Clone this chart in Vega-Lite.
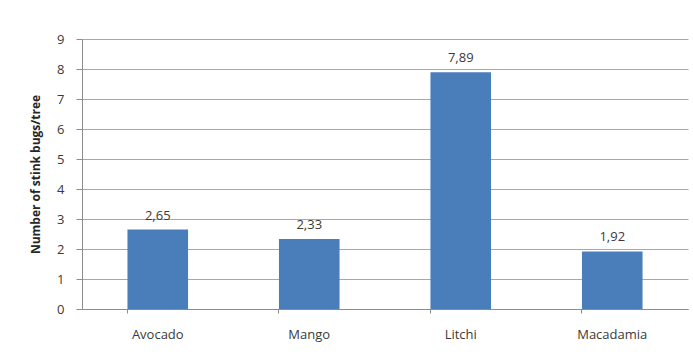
{
  "$schema": "https://vega.github.io/schema/vega-lite/v6.json",
  "autosize": {"type": "none"},
  "width": 606,
  "height": 270,
  "padding": {"left": 82, "top": 39, "right": 5, "bottom": 50},
  "background": "#ffffff",
  "config": {
    "view": {"stroke": null},
    "font": "Open Sans",
    "axis": {
      "labelFont": "Open Sans",
      "labelColor": "#3a3a3a",
      "labelFontSize": 13,
      "domainColor": "#8c8c8c",
      "tickColor": "#8c8c8c",
      "gridColor": "#a8a8a8"
    }
  },
  "data": {
    "values": [
      {"crop": "Avocado", "bugs": 2.65, "label": "2,65"},
      {"crop": "Mango", "bugs": 2.33, "label": "2,33"},
      {"crop": "Litchi", "bugs": 7.89, "label": "7,89"},
      {"crop": "Macadamia", "bugs": 1.92, "label": "1,92"}
    ]
  },
  "encoding": {
    "x": {
      "field": "crop",
      "type": "nominal",
      "sort": null,
      "scale": {"paddingInner": 0.6, "paddingOuter": 0.3},
      "axis": {
        "title": null,
        "labelAngle": 0,
        "labelPadding": 15,
        "tickSize": 4,
        "bandPosition": 0,
        "grid": false
      }
    },
    "y": {
      "field": "bugs",
      "type": "quantitative",
      "scale": {"domain": [0, 9], "nice": false},
      "axis": {
        "title": "Number of stink bugs/tree",
        "titleFont": "Open Sans",
        "titleFontSize": 12,
        "titleFontWeight": "bold",
        "titleColor": "#262626",
        "titlePadding": 14,
        "tickCount": 9,
        "tickSize": 6,
        "labelPadding": 12,
        "grid": true
      }
    }
  },
  "layer": [
    {"mark": {"type": "bar", "color": "#4a7ebb"}},
    {
      "mark": {"type": "text", "baseline": "bottom", "dy": -7, "fontSize": 13, "color": "#3a3a3a"},
      "encoding": {"text": {"field": "label"}}
    }
  ]
}
